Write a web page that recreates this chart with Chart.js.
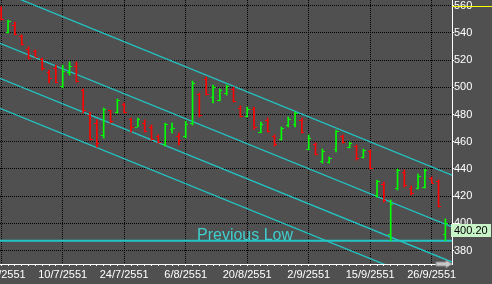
<!DOCTYPE html>
<html><head><meta charset="utf-8">
<script src="https://cdn.jsdelivr.net/npm/chart.js@4.4.1/dist/chart.umd.min.js"></script>
<style>
html,body{margin:0;padding:0;background:#505050;overflow:hidden}
#wrap{position:relative;width:492px;height:284px;overflow:hidden}
#c{position:absolute;left:-40px;top:0}
</style></head><body>
<div id="wrap"><canvas id="c" width="532" height="284"></canvas></div>
<script>
// ---- data ----
const tickBars   = [0, 9, 18, 27, 36, 45, 54, 63];
const tickLabels = ['27/6/2551','10/7/2551','24/7/2551','6/8/2551','20/8/2551','2/9/2551','15/9/2551','26/9/2551'];
const yTicks = [380, 400, 420, 440, 460, 480, 500, 520, 540, 560];

const opens  = [558,541,546,538,528,527,520.5,511,514,501,511,516,498,480,474,465,483,482,488,477,471,474,471,464,458,469,464,464,474,495,506,493,491,496,499,485,479,484,467,476,464,462,472,473,476,455,458,446,445,455,464,456,457,449,453,421,429,392,426,438,426,426,427,433,431,392];
const highs  = [559.3,549.5,548,538.5,529.6,527.4,521.5,512.7,516.4,516.4,518.6,518.6,498.8,481.8,476,484.8,483.3,491.4,488.5,477.4,477.4,476,472.3,464.9,473.7,473.7,466.4,475.2,504.6,495.8,507.6,501.7,498.8,501.7,500.2,486.3,485.5,485.5,474.5,477.4,464.9,470.8,478.2,481.8,477.4,464.9,459,454.6,448.7,468.6,464.9,459.8,457.6,454.6,453.9,431.8,430.3,417.1,439.9,439.2,427.4,436.2,439.9,434,431.8,403.3];
const lows   = [549.5,540,538.5,531,520.8,522.3,512.7,503.2,503.2,499.5,509,503.9,481.1,461.2,456,462.7,473.7,481.1,481.1,467.1,470.8,467.1,461.2,459,456.8,466.4,457.6,462.7,472.3,478.2,494.3,488.5,490,494.3,489.2,478.2,478.2,469.3,466.4,467.1,456.8,461.2,470.8,470.8,466.4,453.9,450.2,444.3,444.3,452.4,459,455.4,446.5,448,440,419.3,415.6,387.2,424.5,426.7,420.8,425.2,425.9,429.6,411.9,387.2];
const closes = [550,549,539,532,521.5,522.5,514,507,504,512,516,505,483,462,459,484,475,490.5,482,471,477,468,462,460,473,470,461,473,503.5,480,495,500,498,501,490,479,484,471,473,468,458,470,477,481,467,463,451,453,448,468,460,459,448,454,441,431,417,414,439,428,422,435,439,430,413,400.2];

const channelX   = [-0.176, 65.97];
const channelTop = [570.7, 435.4];
const channelMid = [532.4, 397.4];
const channelLow = [506.6, 371.5];
const channelBot = [484.6, 349.6];
const prevLow = 387.2;
const prevLowText = 'Previous Low';
const prevLowTextAt = 28.65;
const markLevel = 560;
const lastPrice = 400.20;

const xRange = [-0.176, 65.97];
const yRange = [370.07, 564.2];

// ---- styles ----
const BG = '#505050', RED = '#ff0000', GREEN = '#00ff00', CYAN = '#22c4c4';
const FONT = "'Liberation Sans', Arial, sans-serif";

const barColors = closes.map((c, i) => c >= opens[i] ? GREEN : RED);
const lineDS = (ys, w) => ({
  type: 'line', data: channelX.map((x, k) => ({x, y: ys[k]})),
  borderColor: CYAN, borderWidth: w, pointRadius: 0, fill: false, tension: 0, order: 2
});

const decor = {
  id: 'decor',
  beforeDraw(chart) {
    const c = chart.ctx;
    c.save(); c.fillStyle = BG; c.fillRect(0, 0, chart.width, chart.height); c.restore();
  },
  afterDatasetsDraw(chart) {
    const c = chart.ctx, xs = chart.scales.x, ys = chart.scales.y, a = chart.chartArea;
    const meta = chart.getDatasetMeta(0);
    c.save();
    c.beginPath(); c.rect(a.left, a.top, a.right - a.left, a.bottom - a.top); c.clip();
    meta.data.forEach((el, i) => {
      const x = Math.round(el.x - 0.5);
      c.fillStyle = barColors[i];
      c.fillRect(x - 2, Math.round(ys.getPixelForValue(opens[i])), 2, 1);
      c.fillRect(x + 1, Math.round(ys.getPixelForValue(closes[i])), 2, 1);
    });
    c.fillStyle = '#3fcfcf';
    c.font = '16px ' + FONT;
    c.textBaseline = 'alphabetic'; c.textAlign = 'left';
    c.fillText(prevLowText, xs.getPixelForValue(prevLowTextAt), ys.getPixelForValue(prevLow) - 1);
    c.restore();
  },
  afterDraw(chart) {
    const c = chart.ctx, ys = chart.scales.y, a = chart.chartArea;
    c.save();
    const yy = Math.round(ys.getPixelForValue(markLevel)) + 0.5;
    c.strokeStyle = '#ffff00'; c.lineWidth = 1;
    c.beginPath(); c.moveTo(a.right, yy); c.lineTo(chart.width, yy); c.stroke();
    const top = Math.round(ys.getPixelForValue(lastPrice)) + 1;
    c.fillStyle = '#c8f4c8';
    c.fillRect(a.right - 1, top, 40, 13);
    c.fillStyle = '#000'; c.font = '11px ' + FONT;
    c.textBaseline = 'middle'; c.textAlign = 'left';
    c.fillText(lastPrice.toFixed(2), a.right + 2, top + 7);
    const r = a.right, b = a.bottom;
    c.fillStyle = '#c8c8c8'; c.strokeStyle = '#8a8a8a';
    c.beginPath();
    c.moveTo(r - 16, b - 2); c.lineTo(r - 6, b - 2); c.lineTo(r - 6, b - 4);
    c.lineTo(r, b); c.lineTo(r - 6, b + 4); c.lineTo(r - 6, b + 2); c.lineTo(r - 16, b + 2);
    c.closePath(); c.fill(); c.stroke();
    c.restore();
  }
};

new Chart(document.getElementById('c'), {
  type: 'bar',
  data: {
    datasets: [
      { type: 'bar', data: highs.map((h, i) => ({x: i, y: [lows[i], h]})),
        backgroundColor: barColors, borderWidth: 0, barThickness: 1, grouped: false, order: 1 },
      lineDS(channelTop, 1.3), lineDS(channelMid, 1.3), lineDS(channelLow, 1.3), lineDS(channelBot, 1.3),
      { type: 'line', data: channelX.map(x => ({x, y: prevLow})), borderColor: CYAN, borderWidth: 2,
        pointRadius: 0, fill: false, order: 2 }
    ]
  },
  options: {
    responsive: false, animation: false, devicePixelRatio: 1,
    layout: { padding: { left: 40, right: 0, top: 0, bottom: 0 } },
    plugins: { legend: { display: false }, tooltip: { enabled: false } },
    scales: {
      x: {
        type: 'linear', min: xRange[0], max: xRange[1], offset: false,
        afterBuildTicks: s => { s.ticks = opens.map((_, i) => ({value: i})); },
        afterFit: s => { s.height = 20; s.paddingLeft = 0; s.paddingRight = 0; },
        ticks: { autoSkip: false, maxRotation: 0, minRotation: 0, color: '#fff', padding: 2,
          font: { family: FONT, size: 11 },
          callback: v => { const k = tickBars.indexOf(v); return k >= 0 ? tickLabels[k] : ''; } },
        grid: { offset: false, z: 0,
          color: ctx => (ctx.tick && tickBars.includes(ctx.tick.value)) ? '#000000' : 'rgba(0,0,0,0)',
          tickColor: '#ffffff', tickLength: 2, lineWidth: 1 },
        border: { color: '#ffffff', width: 1, dash: [1, 1] }
      },
      y: {
        position: 'right', min: yRange[0], max: yRange[1], offset: false,
        afterBuildTicks: s => { s.ticks = yTicks.map(v => ({value: v})); },
        afterFit: s => { s.width = 40; s.paddingTop = 0; s.paddingBottom = 0; },
        ticks: { color: '#fff', padding: 0, font: { family: FONT, size: 11 }, callback: v => String(v) },
        grid: { offset: false, z: 0, color: '#000000', tickColor: '#ffffff', tickLength: 2, lineWidth: 1 },
        border: { color: '#ffffff', width: 1, dash: [1, 1] }
      }
    }
  },
  plugins: [decor]
});
</script>
</body></html>
